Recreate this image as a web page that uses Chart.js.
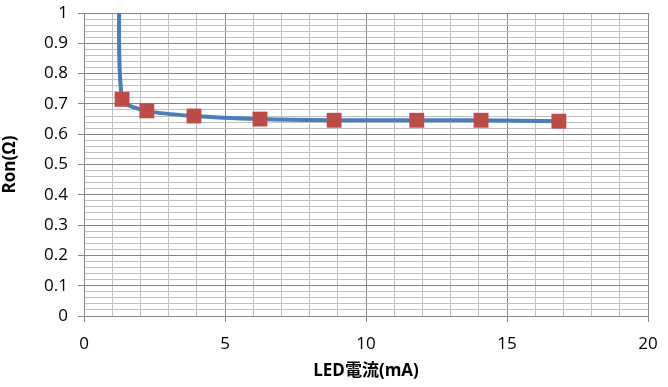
<!DOCTYPE html>
<html>
<head>
<meta charset="utf-8">
<script src="https://cdn.jsdelivr.net/npm/chart.js@4"></script>
<style>
  body { margin: 0; background: white; }
  #wrap { width: 668px; height: 387px; }
</style>
</head>
<body>
<div id="wrap"><canvas id="ronCanvas" width="668" height="387"></canvas></div>
<script>
// LED current (mA) and on-resistance (ohm)
// first point is above the plot, only its line shows
const ledCurrent = [1.28, 1.35, 2.23, 3.9, 6.24, 8.87, 11.8, 14.08, 16.84];
const ronValues = [1.3, 0.715, 0.677, 0.66, 0.65, 0.646, 0.646, 0.646, 0.643];

const xTitle = 'LED電流(mA)';
const yTitle = 'Ron(Ω)';

const fontFamily = "'Open Sans', 'Noto Sans CJK JP', sans-serif";
const majorGrid = '#868686';
const minorGrid = '#c0c0c0';

// building point list for the scatter
const points = ledCurrent.map((x, i) => ({ x: x, y: ronValues[i] }));

const isMajor = (value, step) => {
  var r = value / step;
  return Math.abs(r - Math.round(r)) < 1e-6;
};

const data = {
  datasets: [{
    label: yTitle,
    data: points,
    showLine: true,
    borderColor: '#4a7ebb',
    borderWidth: 4,
    backgroundColor: '#be4b48',
    pointBackgroundColor: '#be4b48',
    pointBorderColor: '#be4b48',
    pointBorderWidth: 0,
    pointStyle: 'rect',
    pointRadius: 10.5,
    pointHoverRadius: 10.5,
    tension: 0.25,
    clip: 0
  }]
};

const options = {
  responsive: false,
  animation: false,
  layout: {
    padding: { top: 13, right: 20, left: 0, bottom: 0 }
  },
  plugins: {
    legend: { display: false },
    tooltip: { enabled: false }
  },
  scales: {
    x: {
      type: 'linear',
      min: 0,
      max: 20,
      border: { color: majorGrid, width: 1 },
      grid: {
        color: (ctx) => isMajor(ctx.tick.value, 5) ? majorGrid : minorGrid,
        tickColor: (ctx) => isMajor(ctx.tick.value, 5) ? majorGrid : 'rgba(0,0,0,0)',
        tickLength: 6
      },
      ticks: {
        stepSize: 1,
        autoSkip: false,
        maxRotation: 0,
        padding: 12,
        color: '#000',
        font: { family: fontFamily, size: 17 },
        callback: (value) => isMajor(value, 5) ? value : ''
      },
      title: {
        display: true,
        text: xTitle,
        color: '#000',
        font: { family: fontFamily, size: 17, weight: 'bold' },
        padding: { top: 4, bottom: 6 }
      },
      afterFit: (scale) => {
        scale.height = 71;
        scale.paddingLeft = 0;
        scale.paddingRight = 0;
      }
    },
    y: {
      type: 'linear',
      min: 0,
      max: 1,
      border: { color: majorGrid, width: 1 },
      grid: {
        color: (ctx) => isMajor(ctx.tick.value, 0.1) ? majorGrid : minorGrid,
        tickColor: (ctx) => isMajor(ctx.tick.value, 0.1) ? majorGrid : 'rgba(0,0,0,0)',
        tickLength: 6
      },
      ticks: {
        stepSize: 0.02,
        autoSkip: false,
        padding: 10,
        color: '#000',
        font: { family: fontFamily, size: 17 },
        callback: (value) => isMajor(value, 0.1) ? Math.round(value * 10) / 10 : ''
      },
      title: {
        display: true,
        text: yTitle,
        color: '#000',
        font: { family: fontFamily, size: 17, weight: 'bold' },
        padding: { top: 0, bottom: 4 }
      },
      afterFit: (scale) => {
        scale.width = 84;
        scale.paddingTop = 0;
        scale.paddingBottom = 0;
      }
    }
  }
};

const config = {
  type: 'scatter',
  data,
  options: options
};

var ronChart = new Chart(document.getElementById('ronCanvas'), config);
</script>
</body>
</html>
